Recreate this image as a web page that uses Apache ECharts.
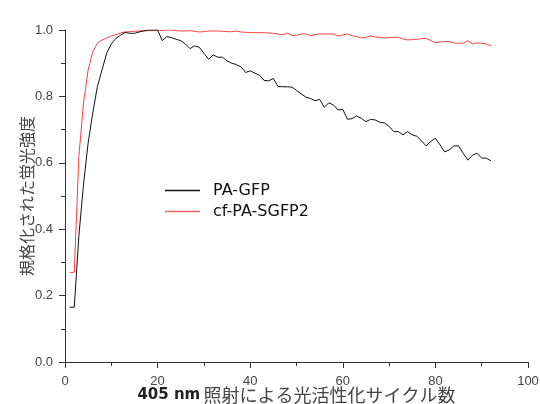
<!DOCTYPE html>
<html>
<head>
<meta charset="utf-8">
<script src="https://cdn.jsdelivr.net/npm/echarts@6/dist/echarts.min.js"></script>
<style>
  html, body { margin: 0; padding: 0; background: #fff; }
  #chart { width: 540px; height: 404px; }
</style>
</head>
<body>
<div id="chart"></div>
<script>
// Photoactivation cycles (405 nm)
const cycles = [
  1, 2, 3, 4, 5, 6, 7, 8, 9, 10, 11, 12, 13, 14, 15, 16, 17, 18, 19, 20,
  21, 22, 23, 24, 25, 26, 27, 28, 29, 30, 31, 32, 33, 34, 35, 36, 37, 38, 39, 40,
  41, 42, 43, 44, 45, 46, 47, 48, 49, 50, 51, 52, 53, 54, 55, 56, 57, 58, 59, 60,
  61, 62, 63, 64, 65, 66, 67, 68, 69, 70, 71, 72, 73, 74, 75, 76, 77, 78, 79, 80,
  81, 82, 83, 84, 85, 86, 87, 88, 89, 90, 91, 92
];

// Normalized fluorescence, PA-GFP
const paGfp = [
  0.165, 0.165, 0.38, 0.535, 0.66, 0.75, 0.83, 0.88, 0.93, 0.958,
  0.975, 0.984, 0.993, 0.99, 0.99, 0.994, 0.997, 1.0, 1.0, 1.0,
  0.968, 0.98, 0.977, 0.972, 0.968, 0.958, 0.944, 0.952, 0.948, 0.93,
  0.912, 0.925, 0.918, 0.918, 0.907, 0.9, 0.896, 0.889, 0.872, 0.877,
  0.87, 0.864, 0.848, 0.847, 0.854, 0.83, 0.829, 0.829, 0.828, 0.818,
  0.808, 0.798, 0.794, 0.787, 0.791, 0.767, 0.781, 0.774, 0.759, 0.761,
  0.731, 0.733, 0.741, 0.734, 0.724, 0.731, 0.729, 0.722, 0.72, 0.71,
  0.694, 0.694, 0.684, 0.694, 0.684, 0.68, 0.666, 0.651, 0.664, 0.674,
  0.654, 0.633, 0.639, 0.651, 0.651, 0.629, 0.608, 0.623, 0.629, 0.614,
  0.614, 0.606
];

// Normalized fluorescence, cf-PA-SGFP2
const cfPaSgfp2 = [
  0.27, 0.27, 0.62, 0.78, 0.88, 0.935, 0.96, 0.97, 0.976, 0.982,
  0.986, 0.991, 0.994, 0.995, 0.996, 0.997, 0.998, 0.998, 0.999, 1.0,
  0.998, 1.0, 1.0, 0.998, 0.997, 0.997, 0.998, 0.996, 0.994, 0.995,
  0.997, 0.997, 0.997, 0.996, 0.995, 0.995, 0.997, 0.994, 0.993, 0.992,
  0.992, 0.992, 0.992, 0.991, 0.99, 0.988, 0.985, 0.991, 0.984, 0.984,
  0.988, 0.988, 0.983, 0.986, 0.988, 0.988, 0.988, 0.988, 0.982, 0.985,
  0.988, 0.983, 0.98, 0.976, 0.978, 0.982, 0.979, 0.978, 0.976, 0.977,
  0.978, 0.978, 0.973, 0.97, 0.971, 0.972, 0.974, 0.975, 0.968, 0.962,
  0.964, 0.965, 0.965, 0.961, 0.96, 0.96, 0.968, 0.958, 0.961, 0.96,
  0.958, 0.952
];

const seriesNames = ['PA-GFP', 'cf-PA-SGFP2'];
const xTitleBold = '405 nm';
const xTitleRest = '照射による光活性化サイクル数';
const yTitle = '規格化された蛍光強度';

const pairs = (vals) => cycles.map((c, i) => [c, vals[i]]);

const axisColor = '#333';
const labelStyle = { color: '#444', fontFamily: 'Liberation Sans', fontSize: 13 };

const chart = echarts.init(document.getElementById('chart'), null, { renderer: 'canvas' });
chart.setOption({
  animation: false,
  backgroundColor: '#fff',
  grid: { left: 65, right: 12, top: 30, bottom: 42, containLabel: false, outerBoundsMode: 'none' },
  legend: {
    orient: 'vertical',
    left: 160,
    top: 177,
    itemWidth: 35,
    itemHeight: 1.5,
    itemGap: 4,
    icon: 'rect',
    textStyle: {
      fontFamily: 'DejaVu Sans',
      fontSize: 16,
      color: '#111',
      lineHeight: 17,
      padding: [0, 0, 0, 8]
    },
    data: seriesNames
  },
  xAxis: {
    type: 'value',
    min: 0,
    max: 100,
    interval: 20,
    name: '{b|' + xTitleBold + '} {r|' + xTitleRest + '}',
    nameLocation: 'middle',
    nameGap: 24,
    nameMoveOverlap: false,
    nameTextStyle: {
      rich: {
        b: { fontFamily: 'DejaVu Sans', fontWeight: 'bold', fontSize: 15, color: '#222' },
        r: { fontFamily: 'Noto Sans CJK JP', fontSize: 18, color: '#444' }
      }
    },
    axisLine: { lineStyle: { color: axisColor, width: 1 } },
    axisTick: { inside: false, length: 6, lineStyle: { color: axisColor } },
    minorTick: { show: true, splitNumber: 2, length: 4, lineStyle: { color: axisColor } },
    splitLine: { show: false },
    axisLabel: Object.assign({ margin: 13 }, labelStyle)
  },
  yAxis: {
    type: 'value',
    min: 0,
    max: 1.0,
    interval: 0.2,
    name: yTitle,
    nameLocation: 'middle',
    nameGap: 30,
    nameMoveOverlap: false,
    nameTextStyle: { fontFamily: 'Noto Sans CJK JP', fontSize: 16, color: '#444' },
    axisLine: { show: true, lineStyle: { color: axisColor, width: 1 } },
    axisTick: { show: true, inside: false, length: 6, lineStyle: { color: axisColor } },
    minorTick: { show: true, splitNumber: 2, length: 4, lineStyle: { color: axisColor } },
    splitLine: { show: false },
    axisLabel: Object.assign({ margin: 12, formatter: (v) => v.toFixed(1) }, labelStyle)
  },
  series: [
    {
      name: seriesNames[0],
      type: 'line',
      data: pairs(paGfp),
      showSymbol: false,
      symbol: 'none',
      lineStyle: { color: '#111', width: 1 },
      itemStyle: { color: '#111' },
      z: 3
    },
    {
      name: seriesNames[1],
      type: 'line',
      data: pairs(cfPaSgfp2),
      showSymbol: false,
      symbol: 'none',
      lineStyle: { color: '#ff4040', width: 1 },
      itemStyle: { color: '#ff6060' },
      z: 2
    }
  ]
});
</script>
</body>
</html>
